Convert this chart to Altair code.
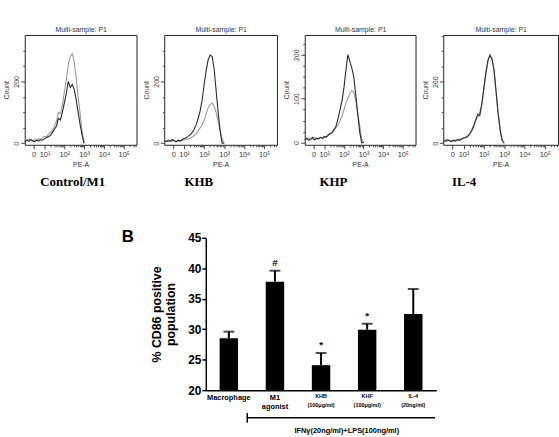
import altair as alt
import pandas as pd
import math

# ---------------- Panel A: flow cytometry histograms ----------------
# PE-A channel position (display units of the biexponential axis: 1 = 10^1, 2 = 10^2, ...)
channels = [0.0, 0.1, 0.2, 0.3, 0.4, 0.5, 0.6, 0.7, 0.8, 0.9, 1.0, 1.1, 1.2, 1.3, 1.4, 1.5,
            1.6, 1.7, 1.8, 1.9, 2.0, 2.1, 2.2, 2.3, 2.4, 2.5, 2.6, 2.7, 2.8, 2.9, 3.0]

ctrl_dark = [5, 10, 6, 12, 8, 5, 10, 7, 12, 10, 15, 18, 22, 25, 35, 45, 55, 80, 75, 100,
             130, 160, 200, 180, 190, 175, 140, 100, 60, 25, 0]
ctrl_light = [12, 8, 14, 10, 6, 12, 9, 15, 11, 18, 22, 20, 30, 35, 42, 55, 70, 100, 95, 120,
              165, 205, 255, 280, 290, 265, 210, 150, 95, 40, 0]

khb_dark = [8, 5, 10, 6, 12, 8, 5, 10, 7, 12, 15, 18, 22, 28, 35, 45, 60, 80, 105, 140,
            190, 235, 270, 285, 280, 240, 170, 100, 40, 0, 0]
khb_light = [5, 8, 4, 10, 6, 9, 5, 8, 6, 10, 10, 12, 14, 16, 20, 25, 32, 40, 50, 60,
             75, 95, 115, 125, 130, 120, 100, 70, 40, 15, 0]

khp_dark = [6, 10, 5, 8, 12, 6, 10, 8, 12, 10, 14, 12, 18, 20, 24, 30, 38, 55, 75, 95,
            125, 165, 200, 185, 170, 150, 110, 65, 25, 0, 0]
khp_light = [4, 8, 10, 6, 9, 12, 8, 10, 12, 8, 12, 14, 16, 20, 22, 28, 34, 40, 50, 60,
             75, 90, 100, 112, 118, 115, 95, 70, 40, 10, 0]

il4_dark = [10, 6, 12, 8, 5, 10, 7, 12, 9, 14, 16, 18, 22, 30, 40, 55, 75, 95, 90, 130,
            180, 230, 270, 285, 275, 240, 170, 100, 45, 10, 0]
il4_light = [8, 12, 6, 10, 9, 6, 11, 8, 14, 12, 18, 20, 25, 32, 45, 58, 78, 85, 100, 125,
             175, 225, 265, 290, 270, 235, 165, 95, 40, 8, 0]

panel_names = ["Control/M1", "KHB", "KHP", "IL-4"]
panel_dark = [ctrl_dark, khb_dark, khp_dark, il4_dark]
panel_light = [ctrl_light, khb_light, khp_light, il4_light]
panel_ymax = [350, 350, 245, 352]
panel_ystep = [50, 50, 25, 50]
panel_ymajor = [200, 200, 100, 200]
panel_width = [113, 114, 112, 116]
panel_label_dx = [-8, -22, -27, -37]

# tick marks of the PE-A axis
x_major = [0.45, 1, 2, 3, 4, 5]
x_minor = [n + math.log10(k) for n in range(1, 6) for k in range(2, 10) if n + math.log10(k) < 5.65]
x_ticks = x_major + x_minor
x_label_expr = ("datum.value == 0.45 ? '0' : datum.value == 1 ? '10¹' : datum.value == 2 ? '10²' : "
                "datum.value == 3 ? '10³' : datum.value == 4 ? '10⁴' : datum.value == 5 ? '10⁵' : ''")
x_major_test = ("datum.value == 0.45 || datum.value == 1 || datum.value == 2 || datum.value == 3 "
                "|| datum.value == 4 || datum.value == 5")

TXT = "#333333"


def hist_panel(i):
    df = pd.DataFrame({"channel": channels, "dark": panel_dark[i], "light": panel_light[i]})
    xscale = alt.Scale(domain=[0, 5.65], nice=False, zero=False)
    yscale = alt.Scale(domain=[-5, panel_ymax[i]], nice=False, zero=False)
    major = panel_ymajor[i]
    yaxis = alt.Axis(
        title="Count", titleFontSize=7, titleFontWeight="normal", titleColor=TXT, titlePadding=3,
        values=list(range(0, panel_ymax[i], panel_ystep[i])),
        labelExpr=f"datum.value % {major} == 0 ? datum.label : ''",
        labelAngle=270, labelAlign="center", labelBaseline="bottom",
        labelFontSize=7, labelColor=TXT, labelPadding=1,
        tickSize={"condition": {"test": f"datum.value % {major} == 0", "value": 4}, "value": 2},
        tickColor="#444444", domain=False, grid=False,
    )
    xaxis_bottom = alt.Axis(
        orient="bottom", title="PE-A", titleFontSize=7, titleFontWeight="normal", titleColor=TXT,
        titlePadding=2, values=x_ticks, labelExpr=x_label_expr, labelFontSize=7.5, labelColor=TXT,
        labelPadding=2, labelFlush=False, labelOverlap=False,
        tickSize={"condition": {"test": x_major_test, "value": 4}, "value": 2},
        tickColor="#444444", domain=False, grid=False,
    )
    xaxis_top = alt.Axis(
        orient="top", title="Multi-sample: P1", titleFontSize=7, titleFontWeight="normal",
        titleColor=TXT, titlePadding=3, labels=False, ticks=False, domain=False, grid=False,
    )
    base = alt.Chart(df)
    light = base.mark_line(color="#9a9a9a", strokeWidth=1.1).encode(
        x=alt.X("channel:Q", scale=xscale, axis=xaxis_top),
        y=alt.Y("light:Q", scale=yscale, axis=yaxis),
    )
    dark = base.mark_line(color="#2a2a2a", strokeWidth=1.1).encode(
        x=alt.X("channel:Q", scale=xscale, axis=xaxis_bottom),
        y=alt.Y("dark:Q", scale=yscale, axis=yaxis),
    )
    return alt.layer(light, dark).resolve_axis(x="independent").properties(
        width=panel_width[i], height=111,
        view=alt.ViewBackground(stroke="#222222", strokeWidth=1),
        title=alt.TitleParams(
            text=panel_names[i], orient="bottom", anchor="middle", frame="group",
            font="Liberation Serif", fontSize=13, fontWeight="bold", color="black",
            dx=panel_label_dx[i], offset=9,
        ),
    )


top_row = alt.hconcat(*[hist_panel(i) for i in range(4)], spacing=4)

# ---------------- Panel B: bar chart ----------------
bar_groups = ["Macrophage", "M1|agonist", "KHB|(100μg/ml)", "KHF|(100μg/ml)", "IL-4|(20ng/ml)"]
bar_means = [28.5, 37.8, 24.1, 29.9, 32.5]
bar_sem = [1.1, 1.8, 2.0, 1.0, 4.1]
bar_marks = ["", "#", "*", "*", ""]
treatment_label = "IFNγ(20ng/ml)+LPS(100ng/ml)"

bar_df = pd.DataFrame({
    "group": bar_groups,
    "mean": bar_means,
    "upper": [m + s for m, s in zip(bar_means, bar_sem)],
    "sig": bar_marks,
})
bracket_df = pd.DataFrame({"start": [bar_groups[1]], "end": [bar_groups[4]]})

BW, BH = 233, 154
xb_scale = alt.Scale(domain=bar_groups, paddingInner=0.6, paddingOuter=0.3)
yb_scale = alt.Scale(domain=[20, 45], nice=False, zero=False)

xb_axis = alt.Axis(
    title=treatment_label, titleFontSize=7.5, titleFontWeight="bold", titleColor="black",
    titleX=142, titleAlign="center", titlePadding=16,
    labelExpr="split(datum.label, '|')", labelAngle=0, labelBaseline="top",
    labelFontSize={"condition": {"test": "indexof(datum.label, '(') >= 0", "value": 5.5}, "value": 7.5},
    labelFontWeight="bold", labelColor="black", labelPadding=3, labelLineHeight=10,
    ticks=False, domainColor="black", domainWidth=1.5,
)
yb_axis = alt.Axis(
    title=["% CD86 positive", "population"], titleFontSize=12.5, titleFontWeight="bold",
    titleColor="black", titlePadding=10,
    values=[20, 25, 30, 35, 40, 45], labelFontSize=12, labelFontWeight="bold", labelColor="black",
    labelPadding=1, labelOverlap=False, labelFlush=False,
    tickSize=4, tickWidth=1.5, tickColor="black", domainColor="black",
    domainWidth=1.5, grid=False,
)


def xb(field="group:N"):
    return alt.X(field, scale=xb_scale, axis=xb_axis)


def yb(field):
    return alt.Y(field, scale=yb_scale, axis=yb_axis)


bbase = alt.Chart(bar_df)
bars = bbase.mark_bar(color="black").encode(
    x=xb(), y=yb("mean:Q"), y2=alt.datum(20),
)
err = bbase.mark_rule(color="black", strokeWidth=2).encode(
    x=xb(), y=yb("mean:Q"), y2=alt.Y2("upper:Q"),
)
caps = bbase.mark_tick(color="black", size=11, thickness=2).encode(
    x=xb(), y=yb("upper:Q"),
)
sig = bbase.mark_text(fontSize=10, fontWeight="bold", color="black", baseline="middle", dy=-8).encode(
    x=xb(), y=yb("upper:Q"), text="sig:N",
)
bracket = alt.Chart(bracket_df).mark_rule(color="black", strokeWidth=1.5, xOffset=-28, x2Offset=22).encode(
    x=xb("start:N"), x2=alt.X2("end"), y=alt.value(BH + 28),
)
bracket_end = alt.Chart(bracket_df).mark_rule(color="black", strokeWidth=1.5, xOffset=-28).encode(
    x=xb("start:N"), y=alt.value(BH + 23), y2=alt.value(BH + 33),
)

bar_chart = alt.layer(bars, err, caps, sig, bracket, bracket_end).properties(
    width=BW, height=BH,
    view=alt.ViewBackground(stroke="transparent"),
    title=alt.TitleParams(text="B", anchor="start", frame="group", dx=-85, dy=18, fontSize=17,
                          fontWeight="bold", color="black", offset=4),
)

spacer = alt.Chart(pd.DataFrame({"v": [0]})).mark_point(opacity=0).properties(
    width=96, height=10, view=alt.ViewBackground(stroke="transparent")
)
bottom_row = alt.hconcat(spacer, bar_chart, spacing=0)

chart = alt.vconcat(top_row, bottom_row, spacing=38).properties(
    padding={"left": 2, "top": 22, "right": 0, "bottom": 0},
    background="white",
).configure(font="Liberation Sans")

chart.save("out.html", embed_options={"renderer": "svg", "actions": False})
